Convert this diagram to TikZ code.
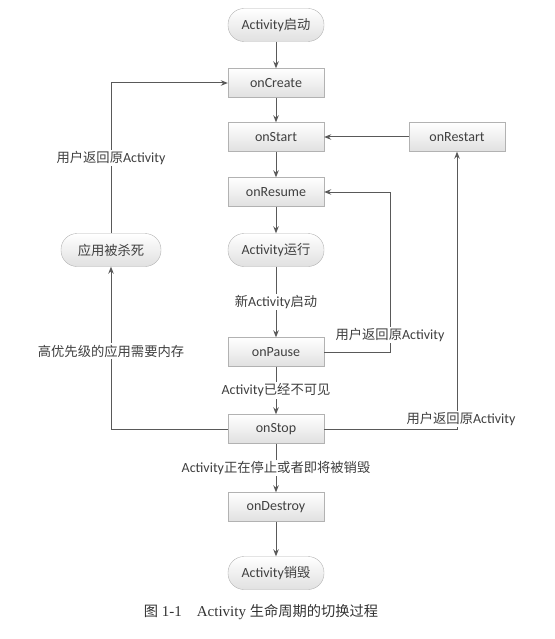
\documentclass[tikz,border=0pt]{standalone}
\usepackage{fontspec}
\usetikzlibrary{arrows.meta}
\setmainfont{Carlito}
\newfontfamily\zhfont[Scale=0.95]{Noto Sans CJK SC}
\newfontfamily\capfont{Liberation Serif}
\newcommand{\zh}[1]{{\zhfont #1}}
\begin{document}
\begin{tikzpicture}[x=1pt, y=-1pt, >={Stealth[length=7pt, width=5.5pt]},
    every node/.style={font=\fontsize{14}{16}\selectfont, text=black!75},
    line/.style={draw=black!65, line width=1pt},
    func/.style={draw=black!30, top color=white, bottom color=black!12, minimum width=96pt, minimum height=29pt, inner sep=2pt},
    state/.style={func, rounded corners=16pt, minimum height=33pt},
    note/.style={fill=white, inner sep=1.5pt}]

    \useasboundingbox (0,0) rectangle (554,639);

    % === 主线: 启动 -> 销毁 (x=276) ===
    \node[state] (start)   at (276, 25)  {Activity\zh{启动}};
    \node[func]  (create)  at (276, 83)  {onCreate};
    \node[func]  (startf)  at (276, 137) {onStart};
    \node[func]  (resume)  at (276, 192) {onResume};
    \node[state] (run)     at (276, 250) {Activity\zh{运行}};
    \node[func]  (pause)   at (276, 352) {onPause};
    \node[func]  (stop)    at (276, 429) {onStop};
    \node[func]  (destroy) at (276, 507) {onDestroy};
    \node[state] (finish)  at (276, 573) {Activity\zh{销毁}};

    % === 两侧: onRestart, 应用被杀死 ===
    \node[func]  (restart) at (457, 137) {onRestart};
    \node[state, minimum width=100pt] (killed) at (111, 250) {\zh{应用被杀死}};

    % === 主线连线 ===
    \draw[line, ->] (start) -- (create);
    \draw[line, ->] (create) -- (startf);
    \draw[line, ->] (startf) -- (resume);
    \draw[line, ->] (resume) -- (run);
    \draw[line, ->] (run) -- (pause)
        node[note, midway] (toPause) {\zh{新}Activity\zh{启动}};
    \draw[line, ->] (pause) -- (stop)
        node[note, midway] (toStop) {Activity\zh{已经不可见}};
    \draw[line, ->] (stop) -- (destroy)
        node[note, midway] (toDestroy) {Activity\zh{正在停止或者即将被销毁}};
    \draw[line, ->] (destroy) -- (finish);

    % === 左侧回路: onStop -> 应用被杀死 -> onCreate ===
    \draw[line, ->] (stop.west) -| (killed.south)
        node[note, pos=0.74] (needMem) {\zh{高优先级的应用需要内存}};
    \draw[line, ->] (killed.north) |- (create.west)
        node[note, pos=0.25] (backLeft) {\zh{用户返回原}Activity};

    % === 右侧回路: onPause -> onResume ===
    \coordinate (pauseTurn) at (390, 352);
    \draw[line, ->] (pause.east) -- (pauseTurn) |- (resume.east);
    \node[note] (backPause) at (390, 335) {\zh{用户返回原}Activity};

    % === 右侧回路: onStop -> onRestart -> onStart ===
    \draw[line, ->] (stop.east) -| (restart.south);
    \node[note] (backStop) at (461, 419) {\zh{用户返回原}Activity};
    \draw[line, ->] (restart) -- (startf);

    % === 图题 ===
    \node[text=black!80, font=\fontsize{15}{17}\selectfont] (caption) at (261, 612)
        {\capfont\zh{图} 1-1\quad Activity \zh{生命周期的切换过程}};

\end{tikzpicture}
\end{document}
